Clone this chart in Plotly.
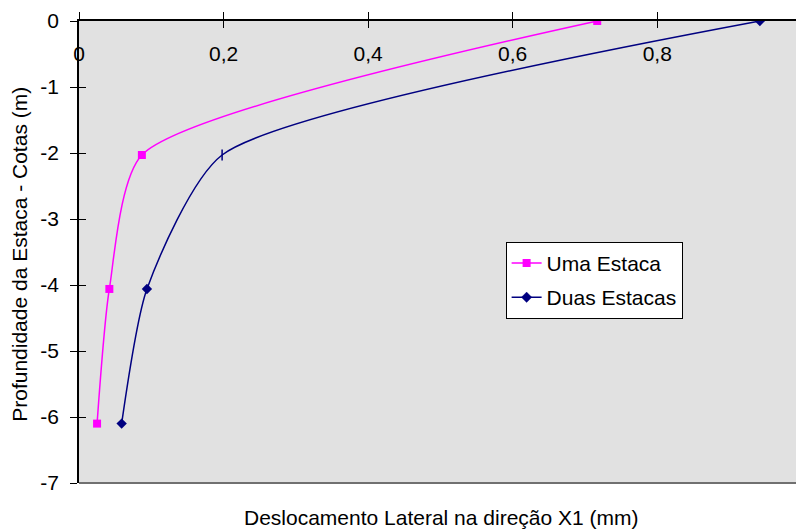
import plotly.graph_objects as go

# Depth (m) and lateral displacement (mm) for each case
profundidade = [0.0, -2.03, -4.06, -6.1]
uma_estaca = [0.717, 0.087, 0.042, 0.025]
duas_estacas = [0.942, 0.198, 0.094, 0.059]

x_ticks = [0, 0.2, 0.4, 0.6, 0.8]
y_ticks = [0, -1, -2, -3, -4, -5, -6, -7]

FONT = "Liberation Sans, Arial, sans-serif"
FS = 21
X_RANGE = [0, 0.992]
Y_RANGE = [-7, 0]
SMOOTH = 0.62

fig = go.Figure()

fig.add_trace(go.Scatter(
    x=uma_estaca, y=profundidade, name="Uma Estaca",
    mode="lines+markers",
    line=dict(color="#FF00FF", width=1.5, shape="spline", smoothing=SMOOTH),
    marker=dict(symbol="square", size=8, color="#FF00FF"),
    legendgroup="a",
))
fig.add_trace(go.Scatter(
    x=duas_estacas, y=profundidade, name="Duas Estacas",
    mode="lines+markers",
    line=dict(color="#000080", width=1.5, shape="spline", smoothing=SMOOTH),
    marker=dict(symbol=["diamond", "line-ns", "diamond", "diamond"], size=8,
                color="#000080", line=dict(color="#000080", width=[0, 1.5, 0, 0])),
    legendgroup="b",
))

axis_common = dict(showgrid=False, zeroline=False)

fig.update_layout(
    width=796, height=531,
    margin=dict(l=79, r=0, t=21, b=48),
    paper_bgcolor="white",
    plot_bgcolor="#E1E1E1",
    separators=", ",
    font=dict(family=FONT, size=FS, color="black"),
    showlegend=True,
    legend=dict(
        x=0.595, y=0.522, xanchor="left", yanchor="top",
        bgcolor="white", bordercolor="black", borderwidth=1,
        font=dict(size=FS), tracegroupgap=4, traceorder="grouped",
    ),
    xaxis=dict(
        **axis_common, range=X_RANGE, side="top",
        tickvals=x_ticks, showticklabels=False,
        ticks="outside", ticklen=7, tickcolor="black",
        showline=True, linecolor="black", linewidth=1.5,
    ),
    xaxis2=dict(
        **axis_common, range=X_RANGE, side="top", overlaying="x",
        tickvals=x_ticks, showticklabels=False,
        ticks="inside", ticklen=7, tickcolor="black",
    ),
    # tick labels of the horizontal scale sit just under the top axis line
    xaxis3=dict(
        **axis_common, range=X_RANGE, side="bottom", overlaying="x",
        anchor="free", position=0.962,
        tickvals=x_ticks, ticktext=[f"{v:g}".replace(".", ",") for v in x_ticks],
        ticks="", showline=False, tickfont=dict(size=FS),
    ),
    yaxis=dict(
        **axis_common, range=Y_RANGE,
        tickvals=y_ticks, ticktext=[str(v) for v in y_ticks],
        ticks="outside", ticklen=7, tickcolor="black", ticklabelstandoff=7,
        showline=True, linecolor="black", linewidth=1.5, tickfont=dict(size=FS),
    ),
    yaxis2=dict(
        **axis_common, range=Y_RANGE, overlaying="y", side="left",
        tickvals=y_ticks, showticklabels=False,
        ticks="inside", ticklen=7, tickcolor="black",
    ),
    shapes=[dict(type="line", xref="paper", yref="paper", x0=0, x1=1, y0=0, y1=0,
                 line=dict(color="#707070", width=2))],
    annotations=[
        dict(text="Deslocamento Lateral na direção X1 (mm)", xref="paper", yref="paper",
             x=0.505, y=-0.075, xanchor="center", yanchor="middle", showarrow=False,
             font=dict(size=FS)),
        dict(text="Profundidade da Estaca - Cotas (m)", xref="paper", yref="paper",
             x=-0.083, y=0.495, xanchor="center", yanchor="middle", showarrow=False,
             textangle=-90, font=dict(size=FS)),
    ],
)

# invisible traces bind the overlay axes so their ticks and labels are drawn
fig.add_trace(go.Scatter(x=[None], y=[None], xaxis="x2", yaxis="y2",
                         showlegend=False, hoverinfo="skip"))
fig.add_trace(go.Scatter(x=[None], y=[None], xaxis="x3", yaxis="y",
                         showlegend=False, hoverinfo="skip"))

fig.write_html("out.html")
